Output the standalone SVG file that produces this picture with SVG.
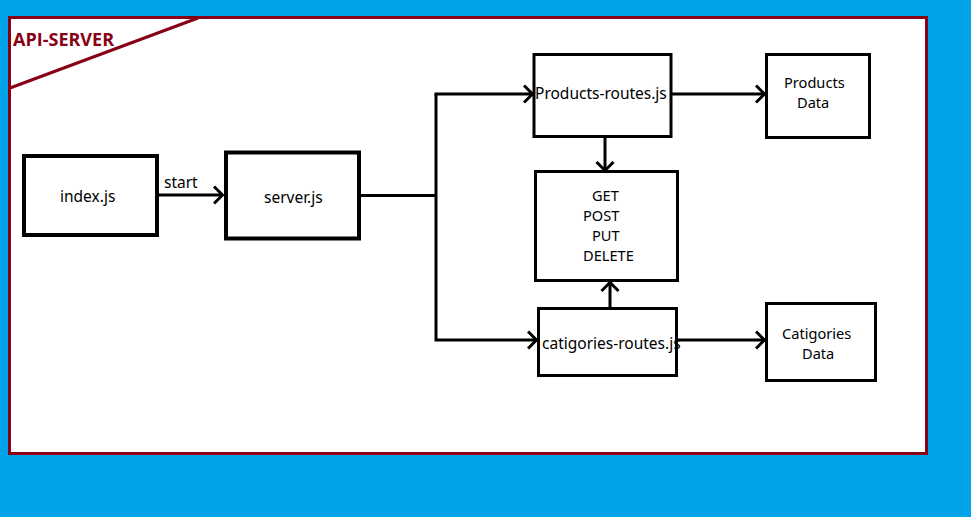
<svg xmlns="http://www.w3.org/2000/svg" width="971" height="517" viewBox="0 0 971 517">
<style>
.box{fill:#fff;stroke:#000}
.thick{stroke-width:4}
.thin{stroke-width:3}
.lbl{font-family:"Noto Sans","Open Sans","Liberation Sans",sans-serif;font-size:15.5px;fill:#000}
.ml{font-size:14.6px}
.wire{fill:none;stroke:#000;stroke-width:3}
</style>
<defs>
<marker id="arr" viewBox="0 0 12 20" refX="10.5" refY="10" markerWidth="12" markerHeight="20" markerUnits="userSpaceOnUse" orient="auto">
<path d="M1.5,1.5 L10,10 L1.5,18.5" fill="none" stroke="#000" stroke-width="3"/>
</marker>
</defs>
<rect x="0" y="0" width="971" height="517" fill="#00a2e8"/>
<g id="frame">
<rect x="9.5" y="17.5" width="917" height="436" fill="#fff" stroke="#880015" stroke-width="3"/>
<line x1="10" y1="88" x2="198" y2="18" stroke="#880015" stroke-width="3"/>
<text x="13" y="46" font-family="'Open Sans','Noto Sans','Liberation Sans',sans-serif" font-size="18" font-weight="bold" fill="#880015">API-SERVER</text>
</g>
<g id="connectors">
<line class="wire" x1="159" y1="195" x2="223" y2="195" marker-end="url(#arr)"/>
<line class="wire" x1="360" y1="195.5" x2="436" y2="195.5"/>
<polyline class="wire" points="436,94 436,340 537,340" marker-end="url(#arr)"/>
<line class="wire" x1="434.5" y1="94" x2="533" y2="94" marker-end="url(#arr)"/>
<line class="wire" x1="672" y1="94" x2="765" y2="94" marker-end="url(#arr)"/>
<line class="wire" x1="605" y1="137" x2="605" y2="171" marker-end="url(#arr)"/>
<line class="wire" x1="610" y1="307" x2="610" y2="282" marker-end="url(#arr)"/>
<line class="wire" x1="678" y1="340" x2="765" y2="340" marker-end="url(#arr)"/>
<text class="lbl" x="164" y="188">start</text>
</g>
<g id="index">
<rect class="box thick" x="24" y="156" width="133" height="79"/>
<text class="lbl" x="60" y="202">index.js</text>
</g>
<g id="server">
<rect class="box thick" x="226" y="152.5" width="133" height="86"/>
<text class="lbl" x="264" y="203">server.js</text>
</g>
<g id="products-routes">
<rect class="box thin" x="534" y="54.5" width="137" height="82"/>
<text class="lbl" x="535" y="99">Products-routes.js</text>
</g>
<g id="products-data">
<rect class="box thin" x="766.5" y="54.5" width="103" height="83"/>
<text class="lbl ml" x="784" y="88">Products</text>
<text class="lbl ml" x="797" y="108">Data</text>
</g>
<g id="methods">
<rect class="box thin" x="535.5" y="171.5" width="142" height="109"/>
<text class="lbl ml" x="592" y="201">GET</text>
<text class="lbl ml" x="583" y="221">POST</text>
<text class="lbl ml" x="592" y="241">PUT</text>
<text class="lbl ml" x="583" y="261">DELETE</text>
</g>
<g id="catigories-routes">
<rect class="box thin" x="538.5" y="308.5" width="138" height="67"/>
<text class="lbl" x="542" y="349">catigories-routes.js</text>
</g>
<g id="catigories-data">
<rect class="box thin" x="766.5" y="303.5" width="109" height="77"/>
<text class="lbl ml" x="782" y="339">Catigories</text>
<text class="lbl ml" x="802" y="359">Data</text>
</g>
</svg>
